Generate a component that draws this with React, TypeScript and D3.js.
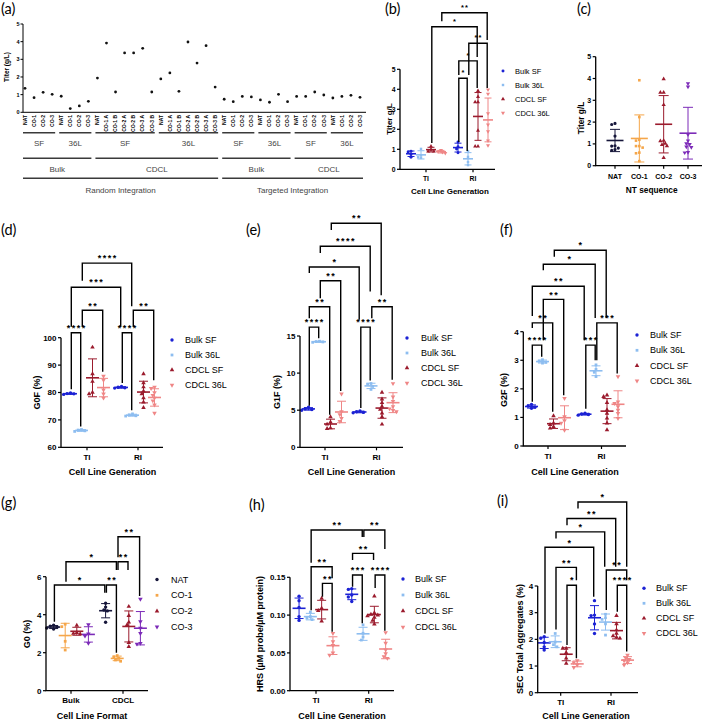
import React from 'react';
import * as d3 from 'd3';

// (a) titer of every pool, g/L
const bulkSeq = ['NAT', 'CO-1', 'CO-2', 'CO-3'];
const cdclRiSeq = ['NAT', 'CO-1 A', 'CO-1 B', 'CO-2 A', 'CO-2 B', 'CO-3 A', 'CO-3 B'];
const cdclTiSeq = ['NAT', 'CO-1', 'CO-2', 'CO-3'];
const riBulkSF = [1.36, 0.83, 1.13, 1.02];
const riBulk36L = [0.91, 0.21, 0.36, 0.62];
const riCdclSF = [1.94, 3.92, 1.15, 3.36, 3.36, 3.62, 1.15];
const riCdcl36L = [1.89, 2.23, 1.19, 3.98, 2.79, 3.77, 1.43];
const tiBulkSF = [0.74, 0.6, 0.9, 0.87];
const tiBulk36L = [0.7, 0.57, 1.02, 0.6];
const tiCdclSF = [0.9, 0.9, 1.15, 0.98];
const tiCdcl36L = [0.81, 0.9, 0.96, 0.85];

const integrations = ['Random Integration', 'Targeted Integration'];
const cellFormats = ['Bulk', 'CDCL'];
const media = ['SF', '36L'];
const generations = ['TI', 'RI'];
const formatSeries = ['Bulk SF', 'Bulk 36L', 'CDCL SF', 'CDCL 36L'];
const ntSeq = ['NAT', 'CO-1', 'CO-2', 'CO-3'];

// (d) G0F %
const g0fTI = [[79.8, 79.6, 79.5, 79.3], [66.5, 66.3, 66.0, 65.8], [96.5, 86.8, 84.0, 80.0, 79.5], [86.0, 84.5, 81.0, 79.5, 78.0]];
const g0fRI = [[82.2, 81.9, 81.7, 81.6], [72.2, 71.8, 71.5, 71.4], [86.8, 83.5, 82.0, 80.5, 79.5, 78.0, 76.5, 74.5], [82.0, 81.5, 80.0, 79.0, 78.0, 77.0, 75.5, 72.5]];
// (e) G1F %
const g1fTI = [[5.4, 5.2, 5.1, 5.0], [14.3, 14.25, 14.2, 14.15], [4.1, 3.4, 3.1, 2.6, 2.5], [7.2, 4.8, 4.4, 3.9, 3.5]];
const g1fRI = [[4.9, 4.8, 4.7, 4.65], [8.6, 8.5, 8.2, 7.8], [7.4, 6.5, 6.0, 5.5, 5.1, 4.6, 4.1, 3.1], [8.6, 6.8, 6.2, 5.5, 5.2, 5.0, 4.8]];
// (f) G2F %
const g2fTI = [[1.45, 1.4, 1.36, 1.32], [3.02, 2.97, 2.93, 2.9], [1.05, 0.8, 0.75, 0.68, 0.62], [1.67, 1.03, 0.89, 0.8, 0.56]];
const g2fRI = [[1.15, 1.12, 1.1, 1.08], [2.84, 2.68, 2.58, 2.43], [1.78, 1.73, 1.52, 1.26, 1.14, 0.97, 0.8, 0.56], [2.43, 1.55, 1.49, 1.38, 1.26, 1.14, 0.97]];
// (g) G0 % by NT sequence
const g0Bulk = [[3.45, 3.4, 3.35, 3.3, 3.25], [3.5, 3.37, 2.6, 2.14], [3.44, 3.06, 3.02, 2.99], [3.48, 2.99, 2.88, 2.5]];
const g0Cdcl = [[4.6, 4.4, 4.25, 4.2, 3.6], [1.85, 1.78, 1.7, 1.62, 1.55], [4.43, 3.95, 3.6, 3.46, 2.53, 2.32], [4.82, 3.64, 3.29, 3.02, 2.5, 2.46]];
// (h) HRS
const hrsTI = [[0.125, 0.119, 0.11, 0.098, 0.093], [0.104, 0.098, 0.096, 0.094], [0.122, 0.109, 0.106, 0.092], [0.076, 0.065, 0.06, 0.05, 0.047]];
const hrsRI = [[0.135, 0.134, 0.1265, 0.124, 0.118], [0.087, 0.076, 0.071, 0.067], [0.125, 0.103, 0.101, 0.1, 0.099, 0.097, 0.093, 0.088], [0.077, 0.063, 0.054, 0.049, 0.045, 0.043]];
// (i) SEC total aggregates %
const secTI = [[2.1, 2.04, 1.88, 1.72, 1.6], [2.22, 1.9, 1.8, 1.72], [1.66, 1.66, 1.5, 1.29, 1.1], [1.2, 1.13, 1.04, 0.95]];
const secRI = [[3.45, 2.91, 2.89, 2.58, 2.22], [2.94, 2.81, 2.75, 2.58, 2.16], [2.89, 2.58, 2.35, 2.22, 2.13, 2.08, 2.04], [1.41, 1.3, 1.25, 1.2, 1.13, 1.04]];

// significance brackets: [groupA, seriesA, groupB, seriesB, level, legEndA, legEndB, label]
type Sig = [number, number, number, number, number, number, number, string];
const titerSig: Sig[] = [
  [0, 3, 1, 3, 7.83, 7.4, 6.47, '**'],
  [0, 2, 1, 2, 7.13, 1.32, 5.62, '*'],
  [1, 1, 1, 3, 6.3, 4.72, 4.07, '**'],
  [1, 0, 1, 2, 5.42, 4.72, 4.07, '*'],
  [1, 0, 1, 1, 4.55, 1.37, 0.92, '*'],
];
const g0fSig: Sig[] = [
  [0, 1, 1, 1, 127.2, 120.8, 111.5, '****'],
  [0, 0, 1, 0, 118.4, 104, 104, '***'],
  [0, 1, 0, 3, 110.0, 104, 87.6, '**'],
  [1, 1, 1, 3, 110.0, 104, 84.5, '**'],
  [0, 0, 0, 1, 101.8, 81.2, 67.6, '****'],
  [1, 0, 1, 1, 101.8, 83.5, 73.5, '****'],
];
const g1fSig: Sig[] = [
  [0, 2, 1, 2, 30.2, 29.3, 20.5, '**'],
  [0, 1, 1, 1, 27.1, 26.2, 21.0, '****'],
  [0, 0, 1, 0, 24.3, 23.5, 17.2, '*'],
  [0, 1, 0, 3, 22.45, 20.1, 7.6, '**'],
  [0, 0, 0, 2, 18.95, 17.4, 4.4, '**'],
  [1, 1, 1, 3, 18.95, 17.4, 9.1, '**'],
  [0, 0, 0, 1, 16.2, 5.6, 14.7, '****'],
  [1, 0, 1, 1, 16.2, 5.3, 9.0, '****'],
];
const g2fSig: Sig[] = [
  [0, 2, 1, 2, 6.85, 6.62, 4.48, '*'],
  [0, 1, 1, 1, 6.36, 6.15, 4.48, '*'],
  [0, 0, 1, 0, 5.59, 4.55, 3.7, '**'],
  [0, 1, 0, 3, 5.13, 3.7, 1.78, '**'],
  [0, 0, 0, 2, 4.31, 4.13, 1.2, '**'],
  [1, 1, 1, 3, 4.31, 3.0, 2.54, '***'],
  [0, 0, 0, 1, 3.53, 1.55, 3.12, '****'],
  [1, 0, 1, 1, 3.53, 1.3, 3.0, '***'],
];
const g0Sig: Sig[] = [
  [1, 1, 1, 3, 8.1, 7.02, 4.98, '**'],
  [0, 1, 1, 1, 6.79, 5.74, 6.35, '*'],
  [1, 1, 1, 2, 6.79, 6.35, 6.35, '**'],
  [0, 0, 1, 0, 5.56, 3.63, 5.16, '*'],
  [1, 0, 1, 1, 5.56, 5.16, 2.0, '**'],
];
const hrsSig: Sig[] = [
  [0, 1, 1, 1, 0.2126, 0.1693, 0.2033, '**'],
  [1, 1, 1, 3, 0.2126, 0.2033, 0.1874, '**'],
  [1, 0, 1, 2, 0.1817, 0.1729, 0.1729, '**'],
  [0, 1, 0, 3, 0.164, 0.1065, 0.1487, '**'],
  [0, 2, 0, 3, 0.142, 0.1243, 0.078, '**'],
  [1, 0, 1, 1, 0.153, 0.1376, 0.0892, '***'],
  [1, 2, 1, 3, 0.153, 0.1358, 0.0794, '****'],
];
const secSig: Sig[] = [
  [0, 3, 1, 3, 7.15, 6.91, 4.72, '*'],
  [0, 2, 1, 2, 6.53, 6.28, 4.72, '**'],
  [0, 1, 1, 1, 6.03, 5.78, 4.72, '*'],
  [0, 0, 1, 0, 5.45, 2.22, 3.6, '*'],
  [0, 1, 0, 3, 4.7, 2.37, 4.22, '**'],
  [0, 2, 0, 3, 4.03, 1.79, 1.29, '*'],
  [1, 1, 1, 3, 4.6, 3.1, 4.22, '**'],
  [1, 2, 1, 3, 4.03, 3.03, 1.54, '****'],
];

// (b) and (c) are regroupings of the pools in (a)
const tiTiter = [tiBulkSF, tiBulk36L, tiCdclSF, tiCdcl36L];
const riTiter = [riBulkSF, riBulk36L, riCdclSF, riCdcl36L];
const seqOf = [bulkSeq, bulkSeq, cdclRiSeq, cdclRiSeq, bulkSeq, bulkSeq, cdclTiSeq, cdclTiSeq];
const allTiter = [...riTiter, ...tiTiter];
const ntTiter = ntSeq.map(nt =>
  allTiter.flatMap((vals, b) => vals.filter((_, i) => seqOf[b][i].split(' ')[0] === nt)));

const FONT = '"Liberation Sans", Arial, sans-serif';
const LETTER_FONT = 'Lato, "Open Sans", sans-serif';
const formatColors = ['#1c22d4', '#8dbdf0', '#9b1b2d', '#ef8686'];
const ntColors = ['#16163a', '#f5a64a', '#9b1b2d', '#7c2bb8'];
const symbols = [d3.symbolCircle, d3.symbolSquare, d3.symbolTriangle, d3.symbolTriangle];

function Marker({ k, x, y, size, color }: { k: number; x: number; y: number; size: number; color: string }) {
  const d = d3.symbol().type(symbols[k]).size(k === 1 ? size * 0.85 : size)() || '';
  return <path d={d} fill={color} transform={`translate(${x},${y})${k === 3 ? ' rotate(180)' : ''}`} />;
}

// spread points sideways when they would overlap
function swarm(vals: number[], y: (v: number) => number, gap: number): number[] {
  const placed: [number, number][] = [];
  const out = vals.map(() => 0);
  d3.range(vals.length).sort((a, b) => vals[b] - vals[a]).forEach(i => {
    const py = y(vals[i]);
    for (let k = 0; k < 30; k++) {
      const dx = k === 0 ? 0 : (k % 2 ? -1 : 1) * Math.ceil(k / 2) * gap * 0.55;
      if (placed.every(([px, qy]) => Math.hypot(px - dx, qy - py) >= gap)) {
        out[i] = dx;
        placed.push([dx, py]);
        return;
      }
    }
  });
  return out;
}

interface PanelCfg {
  letter: [string, number, number];
  left: number; right: number; top: number; bottom: number;
  domain: [number, number]; ticks: number[]; fmt?: (v: number) => string;
  groups: string[]; centers: [number, number]; spacing: number;
  names: string[]; data: number[][][]; byGroup?: boolean; colors: string[];
  sig: Sig[];
  yTitle: string; yTitlePos: [number, number];
  xTitle: string; xTitlePos: [number, number];
  legend?: [number, number, number, number];
  fs: [number, number, number, number];
  marker: number; meanHalf: number; capHalf: number; gap: number;
  tickDy?: number; starDy?: number; starGap?: number;
}

function DotPanel({ c }: { c: PanelCfg }) {
  const y = d3.scaleLinear().domain(c.domain).range([c.bottom, c.top]);
  const gx = d3.scalePoint<string>().domain(c.groups).range(c.centers);
  const sx = d3.scalePoint<string>().domain(c.names).range([-1.5 * c.spacing, 1.5 * c.spacing]);
  const colX = (g: number, s: number) => (gx(c.groups[g]) ?? 0) + (sx(c.names[s]) ?? 0);
  const fmt = c.fmt ?? d3.format('d');
  const [fTick, fTitle, fLegend, fStar] = c.fs;
  const starGap = c.starGap ?? 1.5;

  return (
    <g fontFamily={FONT}>
      <text x={c.letter[1]} y={c.letter[2]} fontFamily={LETTER_FONT} fontSize={14.5}>{c.letter[0]}</text>

      {c.data.map((grp, g) => grp.map((vals, s) => {
        const cx = colX(g, s);
        const k = c.byGroup ? g : s;
        const col = c.colors[k];
        const m = d3.mean(vals) ?? 0;
        const sd = d3.deviation(vals) ?? 0;
        const dx = swarm(vals, y, c.gap);
        return (
          <g key={`${g}-${s}`}>
            {vals.map((v, i) => <Marker key={i} k={k} x={cx + dx[i]} y={y(v)} size={c.marker} color={col} />)}
            <path
              d={`M${cx - c.capHalf},${y(m + sd)}H${cx + c.capHalf}M${cx},${y(m + sd)}V${y(m - sd)}M${cx - c.capHalf},${y(m - sd)}H${cx + c.capHalf}`}
              stroke={col} strokeWidth={1} fill="none" />
            <line x1={cx - c.meanHalf} x2={cx + c.meanHalf} y1={y(m)} y2={y(m)} stroke={col} strokeWidth={1.6} />
          </g>
        );
      }))}

      <path d={`M${c.left},${c.top}V${c.bottom}H${c.right}`} stroke="#000" strokeWidth={1.3} fill="none" />
      {c.ticks.map(t => (
        <g key={t}>
          <line x1={c.left - 3} x2={c.left} y1={y(t)} y2={y(t)} stroke="#000" strokeWidth={1.2} />
          <text x={c.left - 4.5} y={y(t)} dy="0.35em" textAnchor="end" fontSize={fTick} fontWeight="bold">{fmt(t)}</text>
        </g>
      ))}
      {c.groups.map(g => (
        <g key={g}>
          <line x1={gx(g)} x2={gx(g)} y1={c.bottom} y2={c.bottom + 3} stroke="#000" strokeWidth={1.2} />
          <text x={gx(g)} y={c.bottom + (c.tickDy ?? 12.5)} textAnchor="middle" fontSize={fTick} fontWeight="bold">{g}</text>
        </g>
      ))}
      <text transform={`translate(${c.yTitlePos[0]},${c.yTitlePos[1]}) rotate(-90)`} dy="0.35em"
        textAnchor="middle" fontSize={fTitle} fontWeight="bold">{c.yTitle}</text>
      <text x={c.xTitlePos[0]} y={c.xTitlePos[1]} textAnchor="middle" fontSize={fTitle} fontWeight="bold">{c.xTitle}</text>

      {c.sig.map(([ga, sa, gb, sb, lvl, ea, eb, lab], i) => {
        const xa = colX(ga, sa) + 0.8;
        const xb = colX(gb, sb) - 0.8;
        return (
          <g key={i}>
            <path d={`M${xa},${y(ea)}V${y(lvl)}H${xb}V${y(eb)}`} fill="none" stroke="#000" strokeWidth={1.4} />
            <text x={(xa + xb) / 2 + starGap / 2} y={y(lvl) - (c.starDy ?? 1.8)} textAnchor="middle"
              fontSize={fStar} fontWeight="bold" letterSpacing={starGap}>{lab}</text>
          </g>
        );
      })}

      {c.legend && c.names.map((n, i) => {
        const [lx, tx, ly, dy] = c.legend!;
        return (
          <g key={n}>
            <Marker k={i} x={lx} y={ly + i * dy} size={c.marker} color={c.colors[i]} />
            <text x={tx} y={ly + i * dy} dy="0.35em" fontSize={fLegend}>{n}</text>
          </g>
        );
      })}
    </g>
  );
}

function PanelA() {
  const blocks = [
    { integ: 0, fmt: 0, med: 0, labels: bulkSeq, vals: riBulkSF },
    { integ: 0, fmt: 0, med: 1, labels: bulkSeq, vals: riBulk36L },
    { integ: 0, fmt: 1, med: 0, labels: cdclRiSeq, vals: riCdclSF },
    { integ: 0, fmt: 1, med: 1, labels: cdclRiSeq, vals: riCdcl36L },
    { integ: 1, fmt: 0, med: 0, labels: bulkSeq, vals: tiBulkSF },
    { integ: 1, fmt: 0, med: 1, labels: bulkSeq, vals: tiBulk36L },
    { integ: 1, fmt: 1, med: 0, labels: cdclTiSeq, vals: tiCdclSF },
    { integ: 1, fmt: 1, med: 1, labels: cdclTiSeq, vals: tiCdcl36L },
  ];
  const cats = blocks.flatMap((b, bi) => b.labels.map((label, i) => ({ key: `${bi}:${i}`, label, v: b.vals[i], integ: b.integ, fmt: b.fmt, med: b.med })));
  const x = d3.scalePoint<string>().domain(cats.map(c => c.key)).range([25, 360]);
  const y = d3.scaleLinear().domain([0, 5]).range([112.3, 24]);
  type Cat = typeof cats[number];
  const spans = (keyOf: (c: Cat) => string, text: (c: Cat) => string, lineY: number, textY: number) =>
    d3.groups(cats, keyOf).map(([k, cs]) => ({
      k, label: text(cs[0]), x1: x(cs[0].key)! - 2, x2: x(cs[cs.length - 1].key)! + 3, lineY, textY,
    }));
  const levels = [
    ...spans(c => `${c.integ}-${c.fmt}-${c.med}`, c => media[c.med], 132.7, 146),
    ...spans(c => `${c.integ}-${c.fmt}`, c => cellFormats[c.fmt], 158.3, 171.5),
    ...spans(c => `${c.integ}`, c => integrations[c.integ], 178.3, 193),
  ];

  return (
    <g fontFamily={FONT}>
      <text x={1} y={13.5} fontFamily={LETTER_FONT} fontSize={14.5}>(a)</text>
      <path d={`M23,${y(5)}V${y(0)}H366`} stroke="#000" strokeWidth={1} fill="none" />
      {y.ticks(5).map(t => (
        <g key={t}>
          <line x1={20.5} x2={23} y1={y(t)} y2={y(t)} stroke="#000" strokeWidth={1} />
          <text x={19.5} y={y(t)} dy="0.35em" textAnchor="end" fontSize={5.5} fontWeight="bold">{t}</text>
        </g>
      ))}
      <text transform="translate(7,67) rotate(-90)" dy="0.35em" textAnchor="middle" fontSize={6.5} fontWeight="bold">Titer (g/L)</text>
      {cats.map(c => (
        <g key={c.key}>
          <circle cx={x(c.key)} cy={y(c.v)} r={1.4} fill="#111" />
          <text transform={`translate(${x(c.key)},115) rotate(-90)`} dy="0.35em" textAnchor="end" fontSize={5} fontWeight="bold">{c.label}</text>
        </g>
      ))}
      {levels.map(l => (
        <g key={`${l.lineY}-${l.k}`}>
          <line x1={l.x1} x2={l.x2} y1={l.lineY} y2={l.lineY} stroke="#3a3a3a" strokeWidth={1.5} />
          <text x={(l.x1 + l.x2) / 2} y={l.textY} textAnchor="middle" fontSize={8} fill="#444">{l.label}</text>
        </g>
      ))}
    </g>
  );
}

const common = {
  groups: generations, names: formatSeries, colors: formatColors,
  fs: [8, 9, 9, 9] as [number, number, number, number],
  marker: 9, meanHalf: 6.5, capHalf: 4.5, gap: 3.1,
};

const panels: PanelCfg[] = [
  {
    letter: ['(b)', 385, 13.5], left: 400, right: 495, top: 69.3, bottom: 169.3,
    domain: [0, 5], ticks: [0, 1, 2, 3, 4, 5], groups: generations, centers: [426, 473], spacing: 10,
    names: formatSeries, data: [tiTiter, riTiter], colors: formatColors, sig: titerSig,
    yTitle: 'Titer g/L', yTitlePos: [389, 119], xTitle: 'Cell Line Generation', xTitlePos: [450, 194],
    legend: [503, 515, 71, 14], fs: [6.8, 8, 7.5, 7.5], marker: 7, meanHalf: 5, capHalf: 3.5, gap: 2.6,
    tickDy: 11.5, starDy: 3, starGap: 1,
  },
  {
    letter: ['(c)', 577, 14], left: 595.7, right: 702, top: 56.7, bottom: 165.7,
    domain: [0, 5], ticks: [0, 1, 2, 3, 4, 5], groups: ntSeq, centers: [615, 688], spacing: 0,
    names: ['Titer'], data: ntTiter.map(v => [v]), byGroup: true, colors: ntColors, sig: [],
    yTitle: 'Titer g/L', yTitlePos: [581, 118], xTitle: 'NT sequence', xTitlePos: [651.7, 192.5],
    fs: [7, 8.3, 8, 8], marker: 8, meanHalf: 8.5, capHalf: 5, gap: 3, tickDy: 12.8,
  },
  {
    ...common, letter: ['(d)', 1, 234.5], left: 61, right: 163, top: 337.7, bottom: 447.3,
    domain: [60, 100], ticks: [60, 70, 80, 90, 100], centers: [87, 138], spacing: 11,
    data: [g0fTI, g0fRI], sig: g0fSig,
    yTitle: 'G0F (%)', yTitlePos: [37, 392.5], xTitle: 'Cell Line Generation', xTitlePos: [112.5, 474.5],
    legend: [172, 185, 340, 15],
  },
  {
    ...common, letter: ['(e)', 246, 234.5], left: 300, right: 403, top: 336, bottom: 447.3,
    domain: [0, 15], ticks: [0, 5, 10, 15], centers: [325, 376.5], spacing: 11,
    data: [g1fTI, g1fRI], sig: g1fSig,
    yTitle: 'G1F (%)', yTitlePos: [277, 392], xTitle: 'Cell Line Generation', xTitlePos: [351.5, 474.5],
    legend: [407, 421, 338, 15],
  },
  {
    ...common, letter: ['(f)', 500, 234.5], left: 523.3, right: 626, top: 331.7, bottom: 446,
    domain: [0, 4], ticks: [0, 1, 2, 3, 4], centers: [548, 601.5], spacing: 11,
    data: [g2fTI, g2fRI], sig: g2fSig,
    yTitle: 'G2F (%)', yTitlePos: [503.5, 390], xTitle: 'Cell Line Generation', xTitlePos: [575, 474.5],
    legend: [637, 650, 335, 15.3],
  },
  {
    ...common, letter: ['(g)', 1, 508], left: 46, right: 148, top: 576.7, bottom: 690.7,
    domain: [0, 6], ticks: [0, 2, 4, 6], groups: cellFormats, centers: [71, 123], spacing: 11.6,
    names: ntSeq, colors: ntColors, data: [g0Bulk, g0Cdcl], sig: g0Sig,
    yTitle: 'G0 (%)', yTitlePos: [27, 634], xTitle: 'Cell Line Format', xTitlePos: [92, 719],
    legend: [157, 171, 579.5, 15.8],
  },
  {
    ...common, letter: ['(h)', 249, 510], left: 290, right: 394, top: 577.3, bottom: 690.7,
    domain: [0, 0.15], ticks: [0, 0.05, 0.1, 0.15], fmt: d3.format('.2f'), centers: [316, 368.7], spacing: 11.3,
    data: [hrsTI, hrsRI], sig: hrsSig,
    yTitle: 'HRS (µM probe/µM protein)', yTitlePos: [260, 634], xTitle: 'Cell Line Generation', xTitlePos: [342, 719],
    legend: [403, 415, 579, 16],
  },
  {
    ...common, letter: ['(i)', 497, 506], left: 537.7, right: 638, top: 586, bottom: 692.7,
    domain: [0, 4], ticks: [0, 1, 2, 3, 4], centers: [560.7, 611], spacing: 11,
    data: [secTI, secRI], sig: secSig,
    yTitle: 'SEC Total Aggregates (%)', yTitlePos: [520, 639], xTitle: 'Cell Line Generation', xTitlePos: [586, 719],
    legend: [644, 656, 588.3, 15],
  },
];

export default function App() {
  return (
    <svg width={709} height={720} style={{ position: 'absolute', left: 0, top: 0, background: '#fff' }}>
      <rect width={709} height={720} fill="#fff" />
      <PanelA />
      {panels.map(c => <DotPanel key={c.letter[0]} c={c} />)}
    </svg>
  );
}
